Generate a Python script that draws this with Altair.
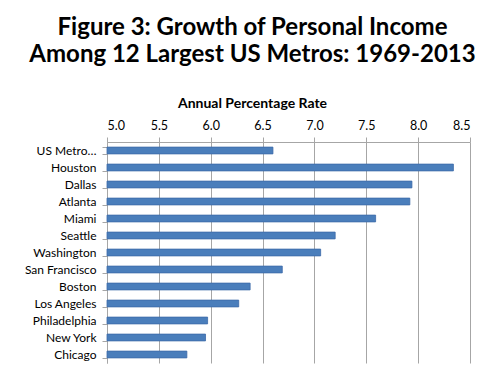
import altair as alt
import pandas as pd

metros = ["US Metro…", "Houston", "Dallas", "Atlanta", "Miami", "Seattle", "Washington",
          "San Francisco", "Boston", "Los Angeles", "Philadelphia", "New York", "Chicago"]
rates = [6.60, 8.34, 7.94, 7.92, 7.59, 7.20, 7.06, 6.69, 6.38, 6.27, 5.97, 5.95, 5.77]
base = 5.0

df = pd.DataFrame({"metro": metros, "rate": rates, "base": [base] * len(metros)})

FONT = "Lato"
GRID = "#a6a6a6"

chart = alt.Chart(df).mark_bar(color="#4a7ebb", stroke="#3c6aa8", strokeWidth=0.8).encode(
    y=alt.Y("metro:N", sort=metros,
            scale=alt.Scale(paddingInner=0.6, paddingOuter=0.3),
            axis=alt.Axis(title=None, orient="left", tickBand="extent", tickSize=5,
                          tickColor=GRID, domainColor=GRID, labelFont=FONT, labelFontSize=12,
                          labelColor="#000000", labelPadding=6, grid=False)),
    x=alt.X("base:Q", scale=alt.Scale(domain=[5.0, 8.5], zero=False, nice=False),
            axis=alt.Axis(orient="top", title="Annual Percentage Rate", values=[5.0, 5.5, 6.0, 6.5, 7.0, 7.5, 8.0, 8.5],
                          format=".1f", tickSize=5, tickColor=GRID, domainColor=GRID,
                          gridColor=GRID, grid=True, labelFont=FONT, labelFontSize=12.5,
                          labelColor="#000000", labelPadding=5, titleFont=FONT,
                          titleFontSize=14, titleFontWeight="bold", titleColor="#000000",
                          titlePadding=9, titleX=145, titleAlign="center")),
    x2="rate:Q",
).properties(
    width=363, height=221,
    title=alt.TitleParams(["Figure 3: Growth of Personal Income", "Among 12 Largest US Metros: 1969-2013"],
                          font=FONT, fontSize=24, fontWeight="bold", color="#000000",
                          anchor="middle", dx=-36, offset=29, lineHeight=27),
    padding={"left": 99, "top": 134, "right": 20, "bottom": 5},
    autosize=alt.AutoSizeParams(type="none"),
).configure_view(stroke=None)

chart.save("out.html", embed_options={"renderer": "svg", "actions": False})
